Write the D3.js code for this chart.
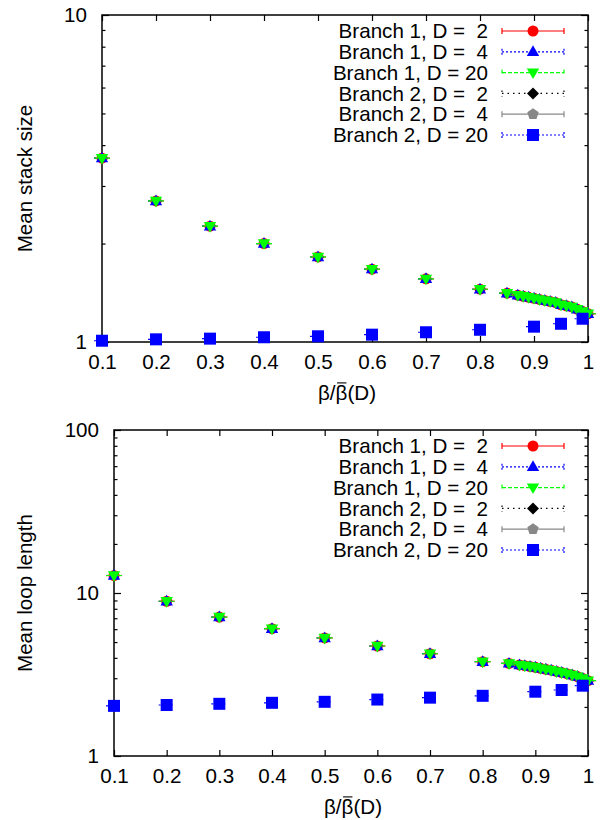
<!DOCTYPE html>
<html>
<head>
<meta charset="utf-8">
<script src="https://cdn.jsdelivr.net/npm/d3@7"></script>
<style>
  html, body { margin: 0; padding: 0; background: #fff; }
  svg text { font-family: "Liberation Sans", Arial, Helvetica, sans-serif; fill: #000; }
</style>
</head>
<body>
<svg id="chart" width="602" height="820"></svg>
<script>
// ---- data ----
const xTickValues = [0.1, 0.2, 0.3, 0.4, 0.5, 0.6, 0.7, 0.8, 0.9, 1.0];

// beta / beta_bar(D) sample points for branch 1
const branch1X = [0.1, 0.2, 0.3, 0.4, 0.5, 0.6, 0.7, 0.8, 0.85, 0.87, 0.88, 0.89, 0.9,
                  0.91, 0.92, 0.93, 0.94, 0.95, 0.96, 0.97, 0.98, 0.99, 1.0];
// sample points for branch 2
const branch2X = [0.1, 0.2, 0.3, 0.4, 0.5, 0.6, 0.7, 0.8, 0.9, 0.95, 0.99];

// mean stack size
const stackB1D2  = [3.65, 2.70, 2.26, 2.00, 1.82, 1.67, 1.56, 1.45, 1.41, 1.39, 1.38, 1.37, 1.36,
                    1.35, 1.34, 1.33, 1.32, 1.30, 1.29, 1.28, 1.26, 1.24, 1.22];
const stackB1D4  = [3.65, 2.70, 2.26, 2.00, 1.82, 1.67, 1.56, 1.45, 1.41, 1.39, 1.38, 1.37, 1.36,
                    1.35, 1.34, 1.33, 1.32, 1.30, 1.29, 1.28, 1.26, 1.24, 1.22];
const stackB1D20 = [3.65, 2.70, 2.26, 2.00, 1.82, 1.67, 1.56, 1.45, 1.41, 1.39, 1.38, 1.37, 1.36,
                    1.35, 1.34, 1.33, 1.32, 1.30, 1.29, 1.28, 1.26, 1.24, 1.22];
const stackB2D2  = [];
const stackB2D4  = [];
const stackB2D20 = [1.009, 1.019, 1.024, 1.034, 1.041, 1.053, 1.071, 1.090, 1.114, 1.137, 1.178];

// mean loop length
const loopB1D2  = [12.8, 8.9, 7.12, 6.04, 5.30, 4.73, 4.24, 3.79, 3.70, 3.62, 3.58, 3.54, 3.50,
                   3.45, 3.40, 3.36, 3.30, 3.25, 3.20, 3.14, 3.07, 2.99, 2.90];
const loopB1D4  = [12.8, 8.9, 7.12, 6.04, 5.30, 4.73, 4.24, 3.79, 3.70, 3.62, 3.58, 3.54, 3.50,
                   3.45, 3.40, 3.36, 3.30, 3.25, 3.20, 3.14, 3.07, 2.99, 2.90];
const loopB1D20 = [12.8, 8.9, 7.12, 6.04, 5.30, 4.73, 4.24, 3.79, 3.70, 3.62, 3.58, 3.54, 3.50,
                   3.45, 3.40, 3.36, 3.30, 3.25, 3.20, 3.14, 3.07, 2.99, 2.90];
const loopB2D2  = [];
const loopB2D4  = [];
const loopB2D20 = [2.03, 2.055, 2.09, 2.12, 2.15, 2.22, 2.28, 2.34, 2.48, 2.54, 2.70];

const seriesLabels = ["Branch 1, D =  2", "Branch 1, D =  4", "Branch 1, D = 20",
                      "Branch 2, D =  2", "Branch 2, D =  4", "Branch 2, D = 20"];

// ---- styles per series (gnuplot-like) ----
const styles = [
  { color: "#ff0000", dash: null,    marker: "circle"  },
  { color: "#0000ff", dash: "2,2",   marker: "triUp"   },
  { color: "#00ff00", dash: "4,2",   marker: "triDown" },
  { color: "#000000", dash: "1.5,4", marker: "diamond" },
  { color: "#888888", dash: null,    marker: "pentagon"},
  { color: "#0000ff", dash: "2,2",   marker: "square"  }
];

function markerPath(type) {
  switch (type) {
    case "circle": {
      const r = 5.5;
      return `M${r},0A${r},${r},0,1,1,${-r},0A${r},${r},0,1,1,${r},0Z`;
    }
    case "triUp":   return "M0,-6.5L6.2,4.2L-6.2,4.2Z";
    case "triDown": return "M0,6.5L6.2,-4.2L-6.2,-4.2Z";
    case "square":  return "M-6,-6L6,-6L6,6L-6,6Z";
    case "diamond": return "M0,-6L6,0L0,6L-6,0Z";
    case "pentagon": {
      const r = 6;
      const pts = d3.range(5).map(i => {
        const a = -Math.PI / 2 + i * 2 * Math.PI / 5;
        return [r * Math.cos(a), r * Math.sin(a)];
      });
      return "M" + pts.map(p => p.join(",")).join("L") + "Z";
    }
  }
}

const panels = [
  {
    left: 102, right: 588, top: 15, bottom: 342,
    yDomain: [1, 10], yMajor: [1, 10],
    yTitle: "Mean stack size",
    series: [
      { x: branch1X, y: stackB1D2 },
      { x: branch1X, y: stackB1D4 },
      { x: branch1X, y: stackB1D20 },
      { x: branch2X, y: stackB2D2 },
      { x: branch2X, y: stackB2D4 },
      { x: branch2X, y: stackB2D20 }
    ]
  },
  {
    left: 114, right: 588, top: 430, bottom: 756,
    yDomain: [1, 100], yMajor: [1, 10, 100],
    yTitle: "Mean loop length",
    series: [
      { x: branch1X, y: loopB1D2 },
      { x: branch1X, y: loopB1D4 },
      { x: branch1X, y: loopB1D20 },
      { x: branch2X, y: loopB2D2 },
      { x: branch2X, y: loopB2D4 },
      { x: branch2X, y: loopB2D20 }
    ]
  }
];

const svg = d3.select("#chart");
const FS = 20.6;

function minorLogTicks(domain) {
  const out = [];
  for (let dec = domain[0]; dec < domain[1]; dec *= 10) {
    for (let m = 2; m <= 9; m++) out.push(dec * m);
  }
  return out;
}

panels.forEach(p => {
  const x = d3.scaleLinear().domain([0.1, 1.0]).range([p.left, p.right]);
  const y = d3.scaleLog().domain(p.yDomain).range([p.bottom, p.top]);
  const g = svg.append("g");

  const styleAxis = sel => {
    sel.select(".domain").remove();
    sel.selectAll(".tick line").attr("stroke", "#000").attr("stroke-width", 1.2);
    sel.selectAll("text").attr("font-size", FS).attr("fill", "#000")
       .style("font-family", '"Liberation Sans", Arial, Helvetica, sans-serif');
    sel.attr("font-family", null).attr("font-size", null);
  };

  // bottom axis with inward ticks
  g.append("g").attr("transform", `translate(0,${p.bottom})`)
    .call(d3.axisBottom(x).tickValues(xTickValues).tickSize(-6).tickPadding(12)
      .tickFormat(d => d === 1 ? "1" : d3.format(".1f")(d)))
    .call(styleAxis);
  // mirrored top ticks
  g.append("g").attr("transform", `translate(0,${p.top})`)
    .call(d3.axisTop(x).tickValues(xTickValues).tickSize(-6).tickFormat(""))
    .call(styleAxis);
  // left axis, major + minor
  g.append("g").attr("transform", `translate(${p.left},0)`)
    .call(d3.axisLeft(y).tickValues(p.yMajor).tickSize(-7).tickPadding(15).tickFormat(d3.format("d")))
    .call(styleAxis);
  g.append("g").attr("transform", `translate(${p.left},0)`)
    .call(d3.axisLeft(y).tickValues(minorLogTicks(p.yDomain)).tickSize(-3.5).tickFormat(""))
    .call(styleAxis);
  // right mirrored ticks
  g.append("g").attr("transform", `translate(${p.right},0)`)
    .call(d3.axisRight(y).tickValues(p.yMajor).tickSize(-7).tickFormat(""))
    .call(styleAxis);
  g.append("g").attr("transform", `translate(${p.right},0)`)
    .call(d3.axisRight(y).tickValues(minorLogTicks(p.yDomain)).tickSize(-3.5).tickFormat(""))
    .call(styleAxis);

  // frame
  g.append("rect")
    .attr("x", p.left).attr("y", p.top)
    .attr("width", p.right - p.left).attr("height", p.bottom - p.top)
    .attr("fill", "none").attr("stroke", "#000").attr("stroke-width", 1.5);

  // axis titles
  g.append("text")
    .attr("transform", `translate(25,${(p.top + p.bottom) / 2}) rotate(-90)`)
    .attr("text-anchor", "middle").attr("dy", "0.35em")
    .attr("font-size", FS).text(p.yTitle);

  const xt = g.append("text")
    .attr("x", (p.left + p.right) / 2 + 2).attr("y", p.bottom + 51)
    .attr("text-anchor", "middle").attr("dy", "0.35em")
    .attr("font-size", FS).text("β/β(D)");
  // overline on the second beta
  const ext = xt.node().getExtentOfChar(2);
  const base = p.bottom + 51 + 0.35 * FS;
  g.append("line")
    .attr("x1", ext.x + 1.5).attr("x2", ext.x + ext.width - 1)
    .attr("y1", base - 0.84 * FS).attr("y2", base - 0.84 * FS)
    .attr("stroke", "#000").attr("stroke-width", 1.1);

  // data: error-bar caps then markers, in plotting order
  p.series.forEach((s, i) => {
    const st = styles[i];
    const pts = s.y.map((v, k) => [x(s.x[k]), y(v)]);
    const sg = g.append("g");
    sg.selectAll("line.cap").data(pts).join("line")
      .attr("class", "cap")
      .attr("x1", d => d[0] - 8).attr("x2", d => d[0] + 8)
      .attr("y1", d => d[1]).attr("y2", d => d[1])
      .attr("stroke", st.color).attr("stroke-width", 1.2)
      .attr("stroke-dasharray", st.dash);
    sg.selectAll("path.mk").data(pts).join("path")
      .attr("class", "mk")
      .attr("transform", d => `translate(${d[0]},${d[1]})`)
      .attr("d", markerPath(st.marker))
      .attr("fill", st.color);
  });

  // legend
  const lx1 = 502, lx2 = 564, lxm = 533, ltxt = 488;
  seriesLabels.forEach((lab, i) => {
    const st = styles[i];
    const ly = p.top + 16 + i * 20.8;
    const lg = g.append("g");
    lg.append("text").attr("x", ltxt).attr("y", ly).attr("dy", "0.35em")
      .attr("text-anchor", "end").attr("font-size", FS)
      .style("white-space", "pre").text(lab);
    lg.append("line").attr("x1", lx1).attr("x2", lx2).attr("y1", ly).attr("y2", ly)
      .attr("stroke", st.color).attr("stroke-width", 1.2).attr("stroke-dasharray", st.dash);
    [lx1, lx2].forEach(cx => lg.append("line")
      .attr("x1", cx).attr("x2", cx).attr("y1", ly - 3).attr("y2", ly + 3)
      .attr("stroke", st.color).attr("stroke-width", 1.2).attr("stroke-dasharray", st.dash));
    lg.append("path").attr("transform", `translate(${lxm},${ly})`)
      .attr("d", markerPath(st.marker)).attr("fill", st.color);
  });
});
</script>
</body>
</html>
